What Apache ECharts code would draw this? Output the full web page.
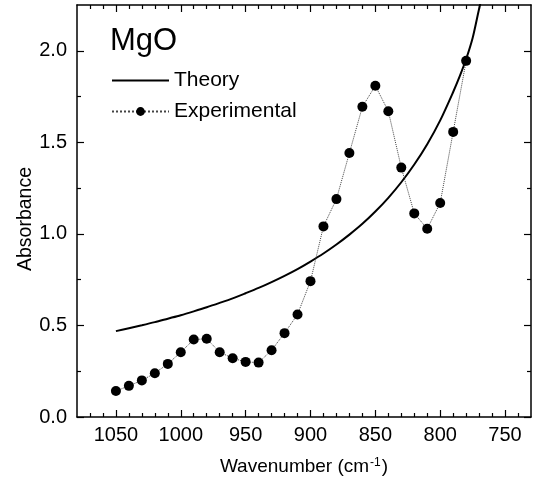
<!DOCTYPE html>
<html>
<head>
<meta charset="utf-8">
<script src="https://cdn.jsdelivr.net/npm/echarts@6/dist/echarts.min.js"></script>
<style>
html,body{margin:0;padding:0;background:#fff;}
#chart{width:543px;height:483px;}
</style>
</head>
<body>
<div id="chart"></div>
<script>
// ---- data ----
const expWavenumbers = [1050, 1040, 1030, 1020, 1010, 1000, 990, 980, 970, 960, 950, 940, 930, 920, 910, 900, 890, 880, 870, 860, 850, 840, 830, 820, 810, 800, 790, 780];
const expAbsorbance = [0.142, 0.170, 0.200, 0.239, 0.290, 0.354, 0.423, 0.427, 0.354, 0.321, 0.301, 0.297, 0.365, 0.458, 0.560, 0.742, 1.041, 1.190, 1.442, 1.694, 1.809, 1.670, 1.362, 1.112, 1.028, 1.169, 1.557, 1.945];
const theoryWavenumbers = [1050, 1040, 1030, 1020, 1010, 1000, 990, 980, 970, 960, 950, 940, 930, 920, 910, 900, 890, 880, 870, 860, 850, 840, 830, 820, 810, 800, 790, 785, 780, 775, 770, 765];
const theoryAbsorbance = [0.469, 0.485, 0.501, 0.518, 0.537, 0.556, 0.577, 0.599, 0.623, 0.648, 0.676, 0.705, 0.737, 0.771, 0.808, 0.849, 0.893, 0.942, 0.996, 1.055, 1.122, 1.197, 1.282, 1.379, 1.490, 1.620, 1.775, 1.86, 1.955, 2.07, 2.23, 2.38];
const xMajorTicks = [750, 800, 850, 900, 950, 1000, 1050];
const xMinorTicks = [740, 760, 770, 780, 790, 810, 820, 830, 840, 860, 870, 880, 890, 910, 920, 930, 940, 960, 970, 980, 990, 1010, 1020, 1030, 1040, 1060, 1070];
const yMajorTicks = [0, 0.5, 1.0, 1.5, 2.0];
const yMinorTicks = [0.25, 0.75, 1.25, 1.75];
const seriesNames = ['Theory', 'Experimental'];
const titleText = 'MgO';
const xName = 'Wavenumber (cm';
const xNameSup = '-1';
const yName = 'Absorbance';

// ---- chart ----
const FONT = "'Liberation Sans', Arial, Helvetica, sans-serif";
const X_MIN = 730, X_MAX = 1080, Y_MIN = 0, Y_MAX = 2.25;
const lineStyle = { color: '#000', width: 1.5 };

function xAxisDef(pos, ticks, len, showLine, showLabels) {
  return {
    type: 'value', position: pos, min: X_MIN, max: X_MAX, inverse: true,
    axisLine: { show: showLine, onZero: false, lineStyle: lineStyle },
    axisTick: { show: true, inside: true, length: len, customValues: ticks, lineStyle: { color: '#000', width: 1.2 } },
    axisLabel: showLabels ? { show: true, customValues: ticks, margin: 8, fontSize: 20, color: '#000', fontFamily: FONT, formatter: v => String(v) } : { show: false },
    splitLine: { show: false }
  };
}
function yAxisDef(pos, ticks, len, showLine, showLabels) {
  return {
    type: 'value', position: pos, min: Y_MIN, max: Y_MAX,
    axisLine: { show: showLine, onZero: false, lineStyle: lineStyle },
    axisTick: { show: true, inside: true, length: len, customValues: ticks, lineStyle: { color: '#000', width: 1.2 } },
    axisLabel: showLabels ? { show: true, customValues: ticks, margin: 10, fontSize: 20, color: '#000', fontFamily: FONT, formatter: v => Number(v).toFixed(1) } : { show: false },
    splitLine: { show: false }
  };
}

const xAxes = [
  xAxisDef('bottom', xMajorTicks, 7, true, true),
  xAxisDef('bottom', xMinorTicks, 4, false, false),
  xAxisDef('top', xMajorTicks, 7, true, false),
  xAxisDef('top', xMinorTicks, 4, false, false)
];
xAxes[0].name = '{a|' + xName + '}{s|' + xNameSup + '}{a|)}';
xAxes[0].nameLocation = 'middle';
xAxes[0].nameGap = 40;
xAxes[0].nameTextStyle = {
  color: '#000', fontFamily: FONT, fontSize: 19,
  rich: {
    a: { fontSize: 19, fontFamily: FONT, color: '#000' },
    s: { fontSize: 12, fontFamily: FONT, color: '#000', verticalAlign: 'top', padding: [0, 1, 0, 1] }
  }
};

const yAxes = [
  yAxisDef('left', yMajorTicks, 7, true, true),
  yAxisDef('left', yMinorTicks, 4, false, false),
  yAxisDef('right', yMajorTicks, 7, true, false),
  yAxisDef('right', yMinorTicks, 4, false, false)
];
yAxes[0].name = yName;
yAxes[0].nameLocation = 'middle';
yAxes[0].nameGap = 41;
yAxes[0].nameMoveOverlap = false;
yAxes[0].nameTextStyle = { color: '#000', fontFamily: FONT, fontSize: 19.5, padding: [0, 16, 0, 0] };

const chart = echarts.init(document.getElementById('chart'), null, { renderer: 'canvas' });
chart.setOption({
  animation: false,
  backgroundColor: '#fff',
  title: {
    text: titleText, left: 110, top: 26, padding: 0,
    textStyle: { fontSize: 31, fontWeight: 'normal', color: '#000', fontFamily: FONT }
  },
  legend: {
    orient: 'vertical', left: 111, top: 70, padding: 0,
    itemWidth: 57, itemHeight: 11, itemGap: 10,
    data: [
      { name: seriesNames[0], itemStyle: { color: 'rgba(0,0,0,0)', borderWidth: 0 } },
      { name: seriesNames[1] }
    ],
    textStyle: { fontSize: 21, color: '#000', fontFamily: FONT }
  },
  grid: { left: 77, right: 12, top: 5, bottom: 66, containLabel: false, outerBoundsMode: 'none' },
  xAxis: xAxes,
  yAxis: yAxes,
  series: [
    {
      name: seriesNames[0], type: 'line', xAxisIndex: 0, yAxisIndex: 0,
      data: theoryWavenumbers.map((w, i) => [w, theoryAbsorbance[i]]),
      showSymbol: false, symbol: 'none', smooth: 0.3, clip: true,
      lineStyle: { color: '#000', width: 2 },
      itemStyle: { color: '#000' }
    },
    {
      name: seriesNames[1], type: 'line', xAxisIndex: 0, yAxisIndex: 0,
      data: expWavenumbers.map((w, i) => [w, expAbsorbance[i]]),
      symbol: 'circle', symbolSize: 10, clip: true,
      lineStyle: { color: '#444', width: 1, type: 'dotted' },
      itemStyle: { color: '#000' }
    }
  ]
});
</script>
</body>
</html>
